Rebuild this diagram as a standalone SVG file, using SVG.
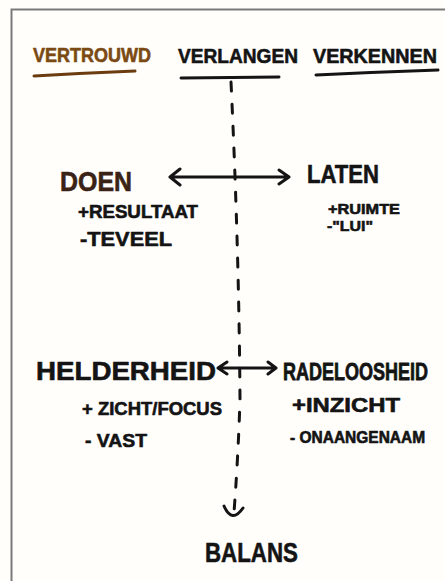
<svg xmlns="http://www.w3.org/2000/svg" width="445" height="581" viewBox="0 0 445 581">
<style>
.t{font-family:"Liberation Sans","DejaVu Sans",sans-serif;font-weight:bold;fill:#141414;stroke:#141414;stroke-width:0.6;stroke-linejoin:round}
.brown{fill:#7b4a14;stroke:#7b4a14}
.dbrown{fill:#3a2216;stroke:#3a2216}
.ln{fill:none;stroke:#141414;stroke-width:3;stroke-linecap:round;stroke-linejoin:round}
</style>
<rect width="445" height="581" fill="#fffefb"/>
<path d="M11.5 581 V9.5 H445" fill="none" stroke="#7a7a7a" stroke-width="2"/>
<g id="vertrouwd">
<text class="t brown" x="33" y="62" font-size="21" textLength="118" lengthAdjust="spacingAndGlyphs">VERTROUWD</text>
<path d="M34 76 Q85 73 135 71" fill="none" stroke="#6b3c10" stroke-width="3" stroke-linecap="round"/>
</g>
<g id="verlangen">
<text class="t" x="178" y="63" font-size="21" textLength="120" lengthAdjust="spacingAndGlyphs">VERLANGEN</text>
<path class="ln" d="M181 78 L279 77"/>
</g>
<g id="verkennen">
<text class="t" x="313" y="63" font-size="20" textLength="124" lengthAdjust="spacingAndGlyphs">VERKENNEN</text>
<path class="ln" d="M316 75 Q378 72 438 70"/>
</g>
<g id="doen">
<text class="t dbrown" x="60" y="191" font-size="28" textLength="72" lengthAdjust="spacingAndGlyphs">DOEN</text>
<text class="t" x="78" y="218" font-size="18" textLength="120" lengthAdjust="spacingAndGlyphs">+RESULTAAT</text>
<text class="t" x="80" y="246" font-size="20" textLength="92" lengthAdjust="spacingAndGlyphs">-TEVEEL</text>
</g>
<g id="laten">
<text class="t" x="307" y="183" font-size="26" textLength="72" lengthAdjust="spacingAndGlyphs">LATEN</text>
<text class="t" x="328" y="214" font-size="15" textLength="72" lengthAdjust="spacingAndGlyphs">+RUIMTE</text>
<text class="t" x="327" y="231" font-size="15" textLength="46" lengthAdjust="spacingAndGlyphs">-"LUI"</text>
</g>
<g id="helderheid">
<text class="t" x="36" y="380" font-size="26" textLength="180" lengthAdjust="spacingAndGlyphs">HELDERHEID</text>
<text class="t" x="82" y="415" font-size="18" textLength="140" lengthAdjust="spacingAndGlyphs">+ ZICHT/FOCUS</text>
<text class="t" x="85" y="447" font-size="18" textLength="62" lengthAdjust="spacingAndGlyphs">- VAST</text>
</g>
<g id="radeloosheid">
<text class="t" transform="translate(283 380) scale(1 1.3)" x="0" y="0" font-size="18">RADELOOSHEID</text>
<text class="t" x="292" y="412" font-size="20" textLength="108" lengthAdjust="spacingAndGlyphs">+INZICHT</text>
<text class="t" transform="translate(290 443) scale(1 1.1)" x="0" y="0" font-size="15.5">- ONAANGENAAM</text>
</g>
<g id="balans">
<text class="t" x="205" y="562" font-size="28" textLength="93" lengthAdjust="spacingAndGlyphs">BALANS</text>
</g>
<g id="connectors">
<path class="ln" d="M231 82 Q239 250 240 400 Q238 460 234 512" stroke-dasharray="9 13"/>
<path class="ln" d="M224 506 Q232 524 243 508"/>
<path class="ln" d="M170 177 H288 M180 169 L170 177 L180 185 M279 170 L289 177 L279 184"/>
<path class="ln" d="M218 368 H275 M227 362 L218 368 L227 374 M268 362 L276 368 L268 374"/>
</g>
</svg>
